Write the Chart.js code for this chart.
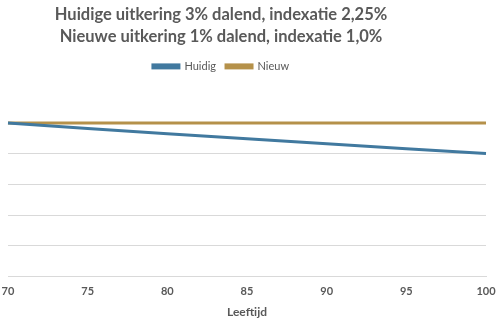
<!DOCTYPE html>
<html>
<head>
<meta charset="utf-8">
<script src="https://cdn.jsdelivr.net/npm/chart.js@4"></script>
<style>
  html, body { margin: 0; padding: 0; background: #fff; }
  #chart { display: block; }
</style>
</head>
<body>
<canvas id="chart" width="500" height="325"></canvas>
<script>
// leeftijden en uitkering (index, start = 100)
const ages = [70, 75, 80, 85, 90, 95, 100];
const huidig = [100, 96.4, 92.9, 89.6, 86.4, 83.2, 80.1];
const nieuw = [100, 100, 100, 100, 100, 100, 100];
const titleLines = ['Huidige uitkering 3% dalend, indexatie 2,25%', 'Nieuwe uitkering 1% dalend, indexatie 1,0%'];

const grey = '#595959';

// titel en legenda staan in het origineel iets links van het midden,
// en onder de legenda zit veel witruimte
const headerTweaks = {
  id: 'headerTweaks',
  beforeInit(chart) {
    const fit = chart.legend.fit;
    chart.legend.fit = function(){
      fit.bind(chart.legend)();
      this.height += 41;
    };
  },
  beforeDraw(chart) {
    [chart.titleBlock, chart.legend].forEach(function(b){
      b.left = 0;
      b.right = 442;
    });
  }
};

const toPoints = (vals) => vals.map((v, i) => ({x: ages[i], y: v}));

new Chart(document.getElementById('chart'), {
  type: 'line',
  data: {
    datasets: [{
      label: 'Huidig',
      data: toPoints(huidig),
      borderColor: '#41799f',
      backgroundColor: '#41799f',
      borderWidth: 3,
      pointRadius: 0,
      tension: 0,
      clip: false
    }, {
      label: 'Nieuw',
      data: toPoints(nieuw),
      borderColor: '#b5914a',
      backgroundColor: '#b5914a',
      borderWidth: 3,
      pointRadius: 0,
      clip: false
    }]
  },
  options: {
    responsive: false,
    animation: false,
    layout: { padding: { left: 8, right: 14, top: 4, bottom: 3 } },
    plugins: {
      title: {
        display: true,
        text: titleLines,
        color: grey,
        font: { family: 'Lato', size: 16.5, weight: '700', lineHeight: 1.3 },
        padding: { top: 0, bottom: 4 }
      },
      legend: {
        labels: {
          color: grey,
          boxWidth: 26,
          boxHeight: 3,
          padding: 10,
          font: { family: 'Lato', size: 11 }
        }
      },
      tooltip: { enabled: false }
    },
    scales: {
      x: {
        type: 'linear',
        min: 70,
        max: 100,
        ticks: { stepSize: 5, color: grey, font: { family: 'Lato', size: 11, weight: '700' }, padding: 0 },
        grid: { display: false },
        border: { color: '#d9d9d9' },
        title: { display: true, text: 'Leeftijd', color: grey, font: { family: 'Lato', size: 12, weight: '700' }, padding: { top: 7, bottom: 3 } }
      },
      y: {
        min: 0,
        max: 100,
        ticks: { display: false, stepSize: 20 },
        grid: { color: '#d9d9d9', drawTicks: false },
        border: { display: false }
      }
    }
  },
  plugins: [headerTweaks]
});
</script>
</body>
</html>
